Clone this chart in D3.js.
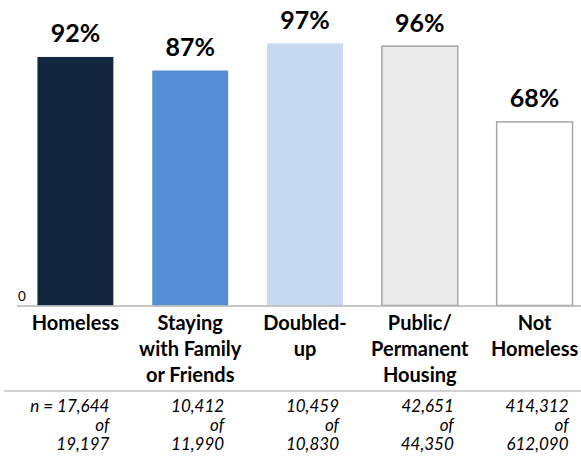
<!DOCTYPE html>
<html>
<head>
<meta charset="utf-8">
<script src="https://cdn.jsdelivr.net/npm/d3@7"></script>
<style>
  body { margin: 0; background: #fff; }
  text { font-family: Lato, "Open Sans", sans-serif; fill: #000; }
  .pct { font-size: 25px; font-weight: bold; }
  .cat { font-size: 20px; font-weight: bold; }
  .nlab { font-size: 17px; font-style: italic; }
</style>
</head>
<body>
<div id="chart"></div>
<script>
// data
const categories = ['Homeless', 'Staying with Family or Friends', 'Doubled-up', 'Public/ Permanent Housing', 'Not Homeless'];
const catLines = [['Homeless'], ['Staying', 'with Family', 'or Friends'], ['Doubled-', 'up'], ['Public/', 'Permanent', 'Housing'], ['Not', 'Homeless']];
const percents = [92, 87, 97, 96, 68];
const counts = ['17,644', '10,412', '10,459', '42,651', '414,312'];
const totals = ['19,197', '11,990', '10,830', '44,350', '612,090'];
const fills = ['#13263f', '#558ed5', '#c6d9f1', '#ebebeb', '#ffffff'];
const strokes = [null, null, null, '#a6a6a6', '#a6a6a6'];

const svgWidth = 581, svgHeight = 456;

const svg = d3.select('#chart')
  .append('svg')
  .attr('width', svgWidth)
  .attr('height', svgHeight);

// Excel style gap: outer padding half the inner
const x = d3.scaleBand()
  .domain(categories)
  .range([18, 592])
  .paddingInner(0.33)
  .paddingOuter(0.165);

const y = d3.scaleLinear()
  .domain([0, 100])
  .range([305.5, 34.8]);

// bars
svg.selectAll('.bar')
  .data(categories)
  .enter()
  .append('rect')
  .attr('x', d => x(d) + 0.5)
  .attr('y', (d, i) => y(percents[i]) + 0.5)
  .attr('width', x.bandwidth() - 1)
  .attr('height', (d, i) => y(0) - y(percents[i]) - 0.5)
  .attr('fill', (d, i) => fills[i])
  .attr('stroke', (d, i) => strokes[i] || 'none')
  .attr('stroke-width', 1.5);

// baseline
svg.append('line')
  .attr('x1', 17).attr('x2', svgWidth)
  .attr('y1', y(0) + 0.5).attr('y2', y(0) + 0.5)
  .attr('stroke', '#b3b3b3')
  .attr('stroke-width', 1.5);

svg.append('text')
  .attr('x', 18)
  .attr('y', 301)
  .style('font-size', '13.5px')
  .text('0');

// value labels
svg.selectAll('.pct')
  .data(categories)
  .enter()
  .append('text')
  .classed('pct', true)
  .attr('x', d => x(d) + x.bandwidth() / 2)
  .attr('y', (d, i) => y(percents[i]) - 14)
  .attr('text-anchor', 'middle')
  .text((d, i) => percents[i] + '%');

// category labels
const catGroup = svg.selectAll('.cat')
  .data(categories)
  .enter()
  .append('text')
  .classed('cat', true)
  .attr('text-anchor', 'middle');

catGroup.each(function(d, i) {
  const cx = x(d) + x.bandwidth() / 2;
  d3.select(this).selectAll('tspan')
    .data(catLines[i])
    .enter()
    .append('tspan')
    .attr('x', cx)
    .attr('y', (t, j) => 330 + j * 26)
    .text(t => t);
});

// separator
svg.append('line')
  .attr('x1', 4).attr('x2', svgWidth)
  .attr('y1', 391).attr('y2', 391)
  .attr('stroke', '#d0d0d0')
  .attr('stroke-width', 2);

// n labels
const nGroup = svg.selectAll('.nlab')
  .data(categories)
  .enter()
  .append('text')
  .classed('nlab', true)
  .attr('text-anchor', 'end');

nGroup.each(function(d, i) {
  const rx = x(d) + x.bandwidth() / 2 + 34;
  const lines = [(i === 0 ? 'n = ' : '') + counts[i], 'of', totals[i]];
  d3.select(this).selectAll('tspan')
    .data(lines)
    .enter()
    .append('tspan')
    .attr('x', rx)
    .attr('y', (t, j) => 412 + j * 19)
    .text(t => t);
});
</script>
</body>
</html>
